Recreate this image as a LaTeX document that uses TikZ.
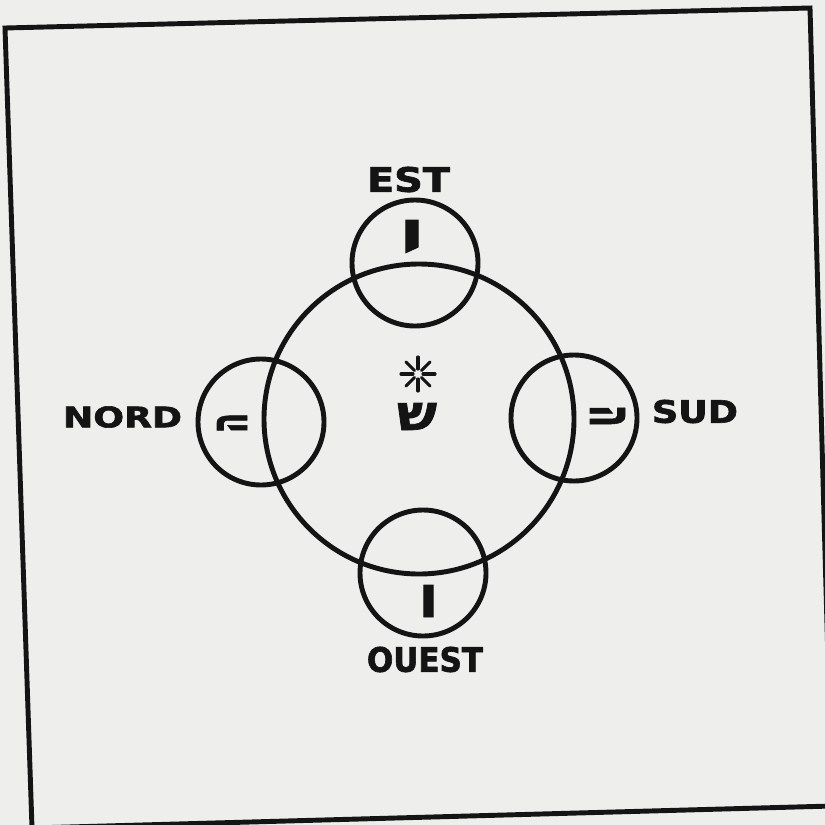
\documentclass[tikz,border=0pt]{standalone}
\usepackage{fontspec}
\usepackage{graphicx}
\usetikzlibrary{calc}
\newfontfamily\lblfont[BoldFeatures={FakeBold=2}]{DejaVu Sans}
\newfontfamily\hebfont[Script=Hebrew,BoldFeatures={FakeBold=1.5}]{DejaVu Sans}
\newlength\pxu
\setlength\pxu{0.02cm}
\definecolor{paper}{RGB}{238,238,236}
\definecolor{ink}{RGB}{20,20,20}
\begin{document}
\begin{tikzpicture}[x=0.02cm,y=-0.02cm,
  ring/.style={circle,draw=ink,line width=2.8pt,inner sep=0pt,minimum size=310\pxu},
  petal/.style={circle,draw=ink,line width=2.8pt,inner sep=0pt,minimum size=126\pxu},
  compass/.style={inner sep=0pt,text=ink,font=\lblfont\bfseries},
  letter/.style={inner sep=0pt,text=ink,font=\hebfont\bfseries},
  frameline/.style={draw=ink,line width=2.8pt,line join=miter}]
\useasboundingbox (0,0) rectangle (825,825);
\fill[paper] (0,0) rectangle (825,825);
\begin{scope}
\clip (0,0) rectangle (825,825);
\coordinate (f1) at (5,28);
\coordinate (f2) at (810,8);
\coordinate (f3) at (832,806);
\coordinate (f4) at (32,828);
\draw[frameline] (f4) -- (f1) -- (f2) -- (f3) -- (f4);
\end{scope}
% circles
\node[ring] (big) at (419,419) {};
\node[petal] (e) at (415,263) {};
\node[petal] (n) at (261,422) {};
\node[petal] (s) at (574,418) {};
\node[petal] (w) at (423,573) {};
% compass labels
\node[compass] (lest) at (408.5,179.5) {\resizebox{83\pxu}{25\pxu}{EST}};
\node[compass] (lnord) at (122.5,417) {\resizebox{119\pxu}{21\pxu}{NORD}};
\node[compass] (lsud) at (695,411.5) {\resizebox{86\pxu}{23\pxu}{SUD}};
\node[compass] (louest) at (425,659.5) {\resizebox{116\pxu}{25\pxu}{OUEST}};
% hebrew letters
\node[letter,anchor=north] (yod) at (412,220) {\resizebox{22\pxu}{46\pxu}{י}};
\node[letter,rotate=90] (he1) at (232,423) {\resizebox{20\pxu}{30\pxu}{ה}};
\node[letter,rotate=-90] (he2) at (607.5,416) {\resizebox{22\pxu}{35\pxu}{ה}};
\node[letter,rotate=180] (vav) at (428.5,601) {\resizebox{20\pxu}{32\pxu}{ו}};
\node[letter] (shin) at (417,416.5) {\resizebox{40\pxu}{27\pxu}{ש}};
% star
\coordinate (star) at (418,374);
\foreach \a in {0,45,...,315}
  \draw[ink,line width=1.8pt,line cap=round] ($(star)+(\a:5)$) -- ($(star)+(\a:17)$);
\end{tikzpicture}
\end{document}
